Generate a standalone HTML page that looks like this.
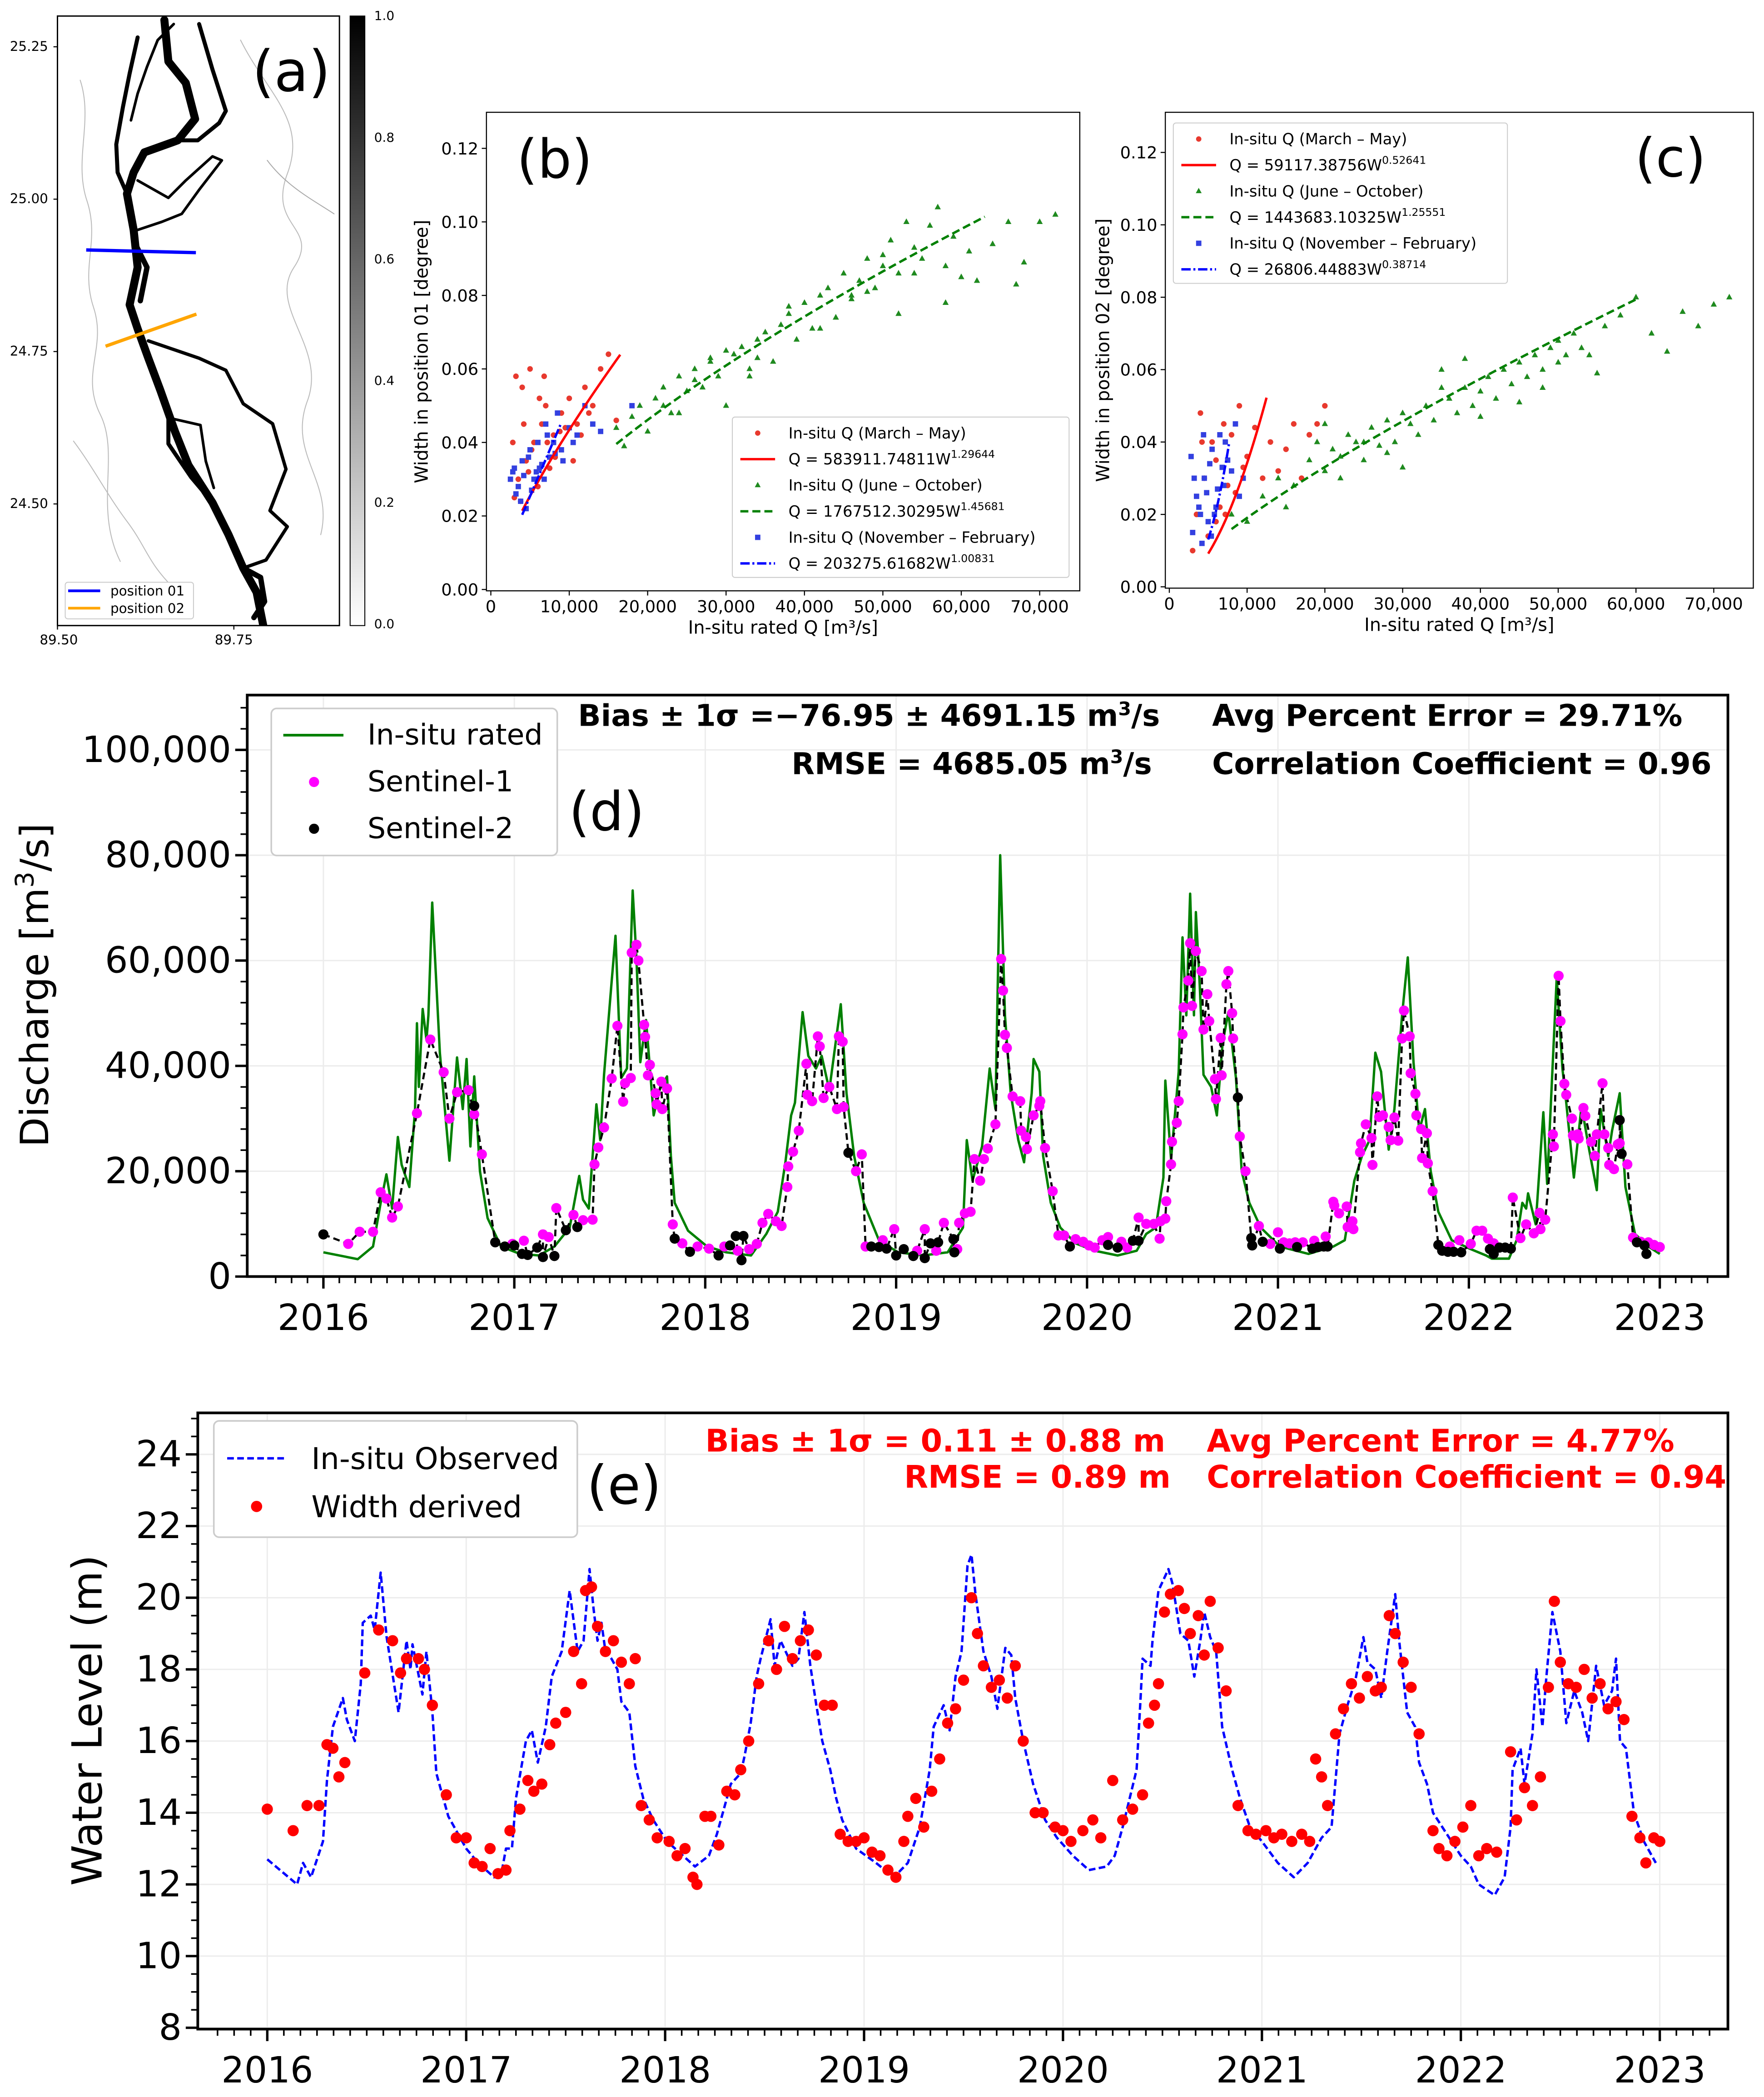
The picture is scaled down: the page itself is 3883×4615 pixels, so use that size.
<!DOCTYPE html>
<html><head><meta charset="utf-8"><title>River width discharge figure</title>
<style>
html,body{margin:0;padding:0;background:#fff;}
svg{display:block;font-family:"DejaVu Sans","Liberation Sans",sans-serif;}
</style></head>
<body>
<svg id="fig" xmlns="http://www.w3.org/2000/svg" width="3883" height="4615" viewBox="0 0 1320 1568.8" preserveAspectRatio="none">
<defs>
<linearGradient id="cbg" x1="0" y1="1" x2="0" y2="0"><stop offset="0" stop-color="#fff"/><stop offset="1" stop-color="#000"/></linearGradient>
<clipPath id="clipA"><rect x="43" y="12" width="211" height="456"/></clipPath>
</defs>
<rect x="0" y="0" width="1320" height="1568.8" fill="#fff"/>

<g id="panelA">
<g clip-path="url(#clipA)" fill="none" stroke="#000" stroke-linejoin="round" stroke-linecap="round">
<path d="M60,60 C70,90 55,120 65,150 S60,200 70,230 S60,280 75,310 S70,380 90,420" stroke="#bbb" stroke-width="0.7"/>
<path d="M180,30 C200,70 230,90 215,130 S240,170 220,200 S245,260 230,300 S250,360 240,400" stroke="#bbb" stroke-width="0.7"/>
<path d="M200,120 C215,140 235,150 250,160" stroke="#aaa" stroke-width="0.7"/>
<path d="M55,330 C70,350 80,370 95,390 S110,420 130,440" stroke="#bbb" stroke-width="0.7"/>
<path d="M123,15 L126,46 L139,62 L146,89 L133,105 L108,114 L100,129 L95,145 L100,172 L103,200 L97,228 L103,246 L111,268 L120,292 L131,323 L141,348 L159,376 L171,400 L182,425 L192,443 L197,468" stroke-width="6"/>
<path d="M103,28 L97,55 L92,80 L87,108 L88,129 L95,145" stroke-width="3"/>
<path d="M130,18 L118,30 L110,50 L103,70 L98,90" stroke-width="2"/>
<path d="M149,18 L159,52 L169,83 L164,92 L148,105 L133,105" stroke-width="3"/>
<path d="M103,135 L126,148 L139,135 L159,117 L166,120 L149,142 L136,160 L121,166 L103,172" stroke-width="2"/>
<path d="M111,255 L149,268 L169,277 L182,302 L204,317 L214,351 L202,382 L215,394 L199,419 L182,425" stroke-width="2.5"/>
<path d="M113,271 L126,308 L126,332 L143,357 L159,376" stroke-width="3"/>
<path d="M128,313 L150,318 L154,345 L160,365" stroke-width="2"/>
<path d="M100,180 L110,200 L105,225" stroke-width="4"/>
<path d="M182,425 L195,432 L198,450 L190,462" stroke-width="4"/>
</g>
<rect x="43" y="12" width="211" height="456" fill="none" stroke="#000" stroke-width="1"/>
<line x1="64.5" y1="187" x2="146.6" y2="189" stroke="#0000ff" stroke-width="2.5"/>
<line x1="79" y1="259" x2="147" y2="235" stroke="#ffa500" stroke-width="2.5"/>
<text x="218" y="68" font-size="42" text-anchor="middle">(a)</text>
<g font-size="10" text-anchor="end" fill="#000">
<text x="36" y="38">25.25</text><text x="36" y="152">25.00</text><text x="36" y="266">24.75</text><text x="36" y="380">24.50</text>
</g>
<g font-size="10" text-anchor="middle">
<text x="44" y="482">89.50</text><text x="175" y="482">89.75</text>
</g>
<g stroke="#000" stroke-width="0.8">
<line x1="40" y1="35" x2="43" y2="35"/><line x1="40" y1="149" x2="43" y2="149"/><line x1="40" y1="263" x2="43" y2="263"/><line x1="40" y1="377" x2="43" y2="377"/>
<line x1="43" y1="468" x2="43" y2="471"/><line x1="175" y1="468" x2="175" y2="471"/>
</g>
<g>
<rect x="48.8" y="435.6" width="96" height="27.4" fill="#fff" stroke="#ccc" stroke-width="0.7" rx="2"/>
<line x1="51" y1="442" x2="75" y2="442" stroke="#0000ff" stroke-width="2"/>
<line x1="51" y1="455" x2="75" y2="455" stroke="#ffa500" stroke-width="2"/>
<text x="82.6" y="445.5" font-size="10">position 01</text>
<text x="82.6" y="458.5" font-size="10">position 02</text>
</g>
<rect x="262" y="12" width="11" height="456" fill="url(#cbg)" stroke="#000" stroke-width="0.7"/>
<g font-size="9.5">
<text x="280" y="15">1.0</text><text x="280" y="106">0.8</text><text x="280" y="197">0.6</text><text x="280" y="288">0.4</text><text x="280" y="379">0.2</text><text x="280" y="470">0.0</text>
</g>
</g>

<g id="panelB"></g>
<g id="panelC"></g>
<g id="panelD"></g>
<g id="panelE"></g>
</svg>

<script>
// ---------- DATA ----------
const bRedQ=[3,3.5,4,4.5,5,5.5,6,6.5,7,7.5,8,9,10,11,12,13,14,15,3.2,4.2,5.2,6.2,7.2,8.2,9.5,11.5,3.8,4.8,6.8,12.5,16,2.8,5.8,8.8,10.5];
const bRedW=[0.025,0.03,0.055,0.035,0.06,0.04,0.028,0.045,0.05,0.033,0.042,0.048,0.052,0.045,0.055,0.05,0.06,0.064,0.058,0.045,0.038,0.052,0.04,0.036,0.044,0.042,0.024,0.032,0.058,0.048,0.046,0.04,0.03,0.043,0.035];
const bGrnQ=[16,18,19,20,21,22,23,24,25,26,27,28,29,30,31,32,33,34,35,36,37,38,39,40,41,42,43,44,45,46,47,48,49,50,51,52,53,54,55,56,57,58,59,60,61,62,64,66,67,68,70,72,22,26,30,34,38,42,46,50,54,58,17,24,28,33,44,48,52];
const bGrnW=[0.044,0.047,0.05,0.043,0.052,0.055,0.048,0.058,0.054,0.06,0.055,0.062,0.058,0.05,0.064,0.066,0.06,0.068,0.07,0.062,0.072,0.075,0.068,0.078,0.071,0.08,0.082,0.074,0.086,0.079,0.084,0.09,0.082,0.088,0.095,0.086,0.1,0.093,0.09,0.099,0.104,0.088,0.096,0.085,0.092,0.084,0.094,0.1,0.083,0.089,0.1,0.102,0.05,0.057,0.065,0.063,0.077,0.071,0.08,0.091,0.086,0.078,0.039,0.048,0.063,0.058,0.074,0.081,0.075];
const bBluQ=[2.5,3,3.5,4,4.5,5,5.5,6,6.5,7,7.5,8,8.5,9,10,11,12,3.2,4.2,5.2,6.2,7.2,8.2,9.2,3.8,4.8,5.8,6.8,2.8,10.5,13,18,14];
const bBluW=[0.03,0.033,0.028,0.035,0.022,0.038,0.03,0.04,0.034,0.045,0.036,0.04,0.048,0.038,0.044,0.042,0.05,0.026,0.031,0.027,0.033,0.042,0.037,0.035,0.024,0.036,0.032,0.03,0.032,0.04,0.045,0.05,0.043];
const cRedQ=[3,3.5,4,4.5,5,5.5,6,6.5,7,7.5,8,9,10,11,12,13,14,16,18,20,6,8.5,9.5,15,17,4.2,7.2,19];
const cRedW=[0.01,0.02,0.048,0.03,0.014,0.04,0.035,0.022,0.045,0.028,0.042,0.05,0.036,0.044,0.03,0.04,0.032,0.045,0.042,0.05,0.018,0.026,0.033,0.038,0.03,0.04,0.02,0.045];
const cGrnQ=[8,10,12,14,16,18,19,20,21,22,23,24,25,26,27,28,29,30,31,32,33,34,35,36,37,38,39,40,41,42,43,44,45,46,47,48,49,50,51,52,53,54,56,58,60,62,64,66,68,70,72,15,20,25,30,35,40,45,50,55,22,28,38,48];
const cGrnW=[0.02,0.018,0.025,0.03,0.028,0.035,0.04,0.032,0.038,0.036,0.042,0.04,0.035,0.044,0.039,0.046,0.04,0.048,0.045,0.042,0.05,0.046,0.06,0.052,0.048,0.055,0.05,0.054,0.058,0.052,0.06,0.056,0.062,0.058,0.064,0.06,0.066,0.062,0.064,0.07,0.066,0.064,0.072,0.075,0.08,0.07,0.065,0.076,0.072,0.078,0.08,0.022,0.045,0.04,0.033,0.055,0.047,0.051,0.068,0.059,0.03,0.037,0.063,0.055];
const cBluQ=[3,3.5,4,4.5,5,5.5,6,6.5,7,7.5,8,8.5,9,3.2,4.2,5.2,6.2,7.2,3.8,4.8,5.8,6.8,2.8,4.4,5.4,9.5];
const cBluW=[0.015,0.025,0.02,0.03,0.018,0.038,0.022,0.042,0.028,0.035,0.032,0.045,0.025,0.03,0.012,0.034,0.027,0.04,0.022,0.026,0.02,0.033,0.036,0.042,0.014,0.03];
const bFits=[[583911.74811,1.29644,4,16.5],[1767512.30295,1.45681,16,63],[203275.61682,1.00831,4,9]];
const cFits=[[59117.38756,0.52641,5,12.5],[1443683.10325,1.25551,8,60],[26806.44883,0.38714,5,7.7]];

const qT=[2016.0,2016.18,2016.26,2016.30,2016.33,2016.36,2016.39,2016.41,2016.45,2016.48,2016.49,2016.50,2016.52,2016.54,2016.55,2016.57,2016.61,2016.66,2016.70,2016.73,2016.75,2016.77,2016.79,2016.82,2016.86,2016.93,
2017.03,2017.13,2017.21,2017.29,2017.34,2017.36,2017.39,2017.43,2017.45,2017.47,2017.51,2017.53,2017.56,2017.59,2017.62,2017.64,2017.66,2017.69,2017.73,2017.76,2017.80,2017.82,2017.84,2017.91,
2018.01,2018.11,2018.24,2018.32,2018.38,2018.42,2018.45,2018.47,2018.51,2018.54,2018.58,2018.61,2018.65,2018.71,2018.74,2018.78,2018.83,2018.91,
2019.01,2019.14,2019.27,2019.35,2019.37,2019.40,2019.45,2019.49,2019.52,2019.545,2019.57,2019.60,2019.64,2019.67,2019.71,2019.72,2019.75,2019.77,2019.81,2019.86,2019.94,
2020.04,2020.16,2020.26,2020.31,2020.36,2020.40,2020.41,2020.44,2020.48,2020.50,2020.52,2020.54,2020.56,2020.57,2020.59,2020.61,2020.65,2020.68,2020.71,2020.74,2020.78,2020.81,2020.85,2020.91,
2021.01,2021.16,2021.29,2021.35,2021.40,2021.44,2021.48,2021.51,2021.54,2021.58,2021.61,2021.65,2021.68,2021.71,2021.74,2021.77,2021.80,2021.84,2021.91,
2022.01,2022.09,2022.12,2022.21,2022.25,2022.28,2022.30,2022.31,2022.35,2022.39,2022.41,2022.46,2022.49,2022.51,2022.55,2022.59,2022.63,2022.67,2022.69,2022.73,2022.75,2022.79,2022.82,2022.87,2022.94,2023.0];
const qV=[4.6,3.3,5.7,14,19.4,12.9,26.5,21.2,17,31.8,48.1,36,50.8,44.9,49.6,71,42.5,22,41.6,31.8,41.3,24.7,38,20,11.1,5.7,
4.3,4,5.7,9.3,19.1,14.6,12.9,32.7,25.9,38.3,56.1,64.7,37.7,39.5,73.3,60.3,40.7,48.7,30.6,35.4,38,22.9,14,8.7,
5.7,4.6,4,8.1,12.3,21.7,30.6,33,50.2,41.9,39.5,41.9,35.4,51.7,34.8,22.9,14,6.9,
4.6,4,4.6,9.3,25.9,18.2,24.7,39.5,31.8,80,49.6,34.8,25.9,21.7,34.8,41.3,38.9,22.9,14,9.3,6.3,
4.9,4,4.9,8.1,9.3,18.8,37.2,22.3,38.9,64.4,49.6,72.7,49.6,69.2,55.5,38.3,36,30.6,44.3,50.2,37.7,20,14,9.3,
5.7,4.3,5.7,6.9,18.2,22.9,25.9,42.5,38.9,24.1,31.8,49.6,60.6,40.7,27.7,31.8,20,12.3,6.9,
5.2,4,3.4,3.4,6.9,14,12.9,15.8,9.9,31.2,17.6,56.7,39.5,33,18.8,32.4,24.1,16.4,31.8,22.9,27.7,34.8,17,8.1,5.7,4.3];
const s1T=[2016.13,2016.19,2016.26,2016.30,2016.33,2016.36,2016.39,2016.49,2016.56,2016.63,2016.66,2016.70,2016.76,2016.79,2016.83,
2016.99,2017.05,2017.15,2017.18,2017.22,2017.31,2017.36,2017.41,2017.42,2017.44,2017.47,2017.51,2017.54,2017.57,2017.58,2017.61,2017.615,2017.64,2017.65,2017.68,2017.685,2017.70,2017.71,2017.74,2017.745,2017.77,2017.775,2017.80,2017.83,2017.88,2017.96,2018.02,2018.10,2018.17,2018.23,2018.27,2018.30,2018.33,2018.37,2018.40,2018.43,2018.435,2018.46,2018.49,2018.53,2018.535,2018.56,2018.59,2018.60,2018.62,2018.65,2018.69,2018.70,2018.72,2018.725,2018.79,2018.82,
2018.84,2018.93,2018.99,2019.11,2019.15,2019.21,2019.25,2019.32,2019.33,2019.36,2019.39,2019.41,2019.44,2019.46,2019.48,2019.52,2019.55,2019.56,2019.57,2019.58,2019.61,2019.65,2019.655,2019.68,2019.685,2019.72,2019.75,2019.755,2019.78,2019.82,2019.85,2019.88,2019.94,2019.98,2020.01,2020.04,2020.08,2020.11,2020.18,2020.21,2020.27,2020.31,2020.35,2020.38,2020.385,2020.41,2020.415,2020.44,2020.445,2020.47,2020.48,2020.50,2020.505,2020.53,2020.54,2020.55,2020.57,2020.60,2020.61,2020.63,2020.64,2020.67,2020.675,2020.70,2020.705,2020.73,2020.74,2020.76,2020.765,2020.80,2020.83,2020.90,2020.96,2021.00,2021.03,2021.06,2021.09,2021.13,2021.19,2021.25,2021.29,2021.295,2021.32,2021.36,2021.365,2021.39,2021.395,2021.43,2021.435,2021.46,2021.49,2021.495,2021.52,2021.53,2021.55,2021.58,2021.59,2021.61,2021.63,2021.65,2021.66,2021.69,2021.695,2021.72,2021.725,2021.75,2021.755,2021.78,2021.785,2021.81,2021.90,2021.95,2022.01,2022.04,2022.07,2022.10,2022.13,2022.23,2022.27,2022.30,2022.34,2022.37,2022.375,2022.40,2022.44,2022.445,2022.47,2022.48,2022.50,2022.51,2022.54,2022.545,2022.57,2022.575,2022.60,2022.61,2022.64,2022.66,2022.67,2022.70,2022.71,2022.73,2022.735,2022.76,2022.78,2022.79,2022.83,2022.86,2022.90,2022.94,2022.97,2023.0];
const s1Q=[6.2,8.5,8.5,16,14.8,11.2,13.3,31,45,38.8,30,35,35.4,30.8,23.2,
6.2,6.8,8,7.5,13,11.7,10.7,10.8,21.3,24.5,28.3,37.6,47.6,33.2,36.7,37.7,61.5,63,60,47.8,45.5,38.2,40.2,34.8,32.7,37,31.8,35.7,9.9,6.3,5.7,5.3,5.7,4.9,5.2,6.2,10.2,11.9,10.5,9.6,17,20.9,23.7,27.7,40.4,34.5,33.3,45.6,43.7,33.9,36,31.8,45.6,44.6,32.2,20,23.2,
5.7,6.9,9,4.9,9,4.9,10.2,5.2,10.2,12,12.3,22.3,18.2,22.3,24.3,28.9,60.3,54.3,45.9,43.4,34.2,33.3,27.7,26.5,24.2,30.6,32.4,33.3,24.4,16.2,7.8,7.8,7.1,6.6,5.9,5.5,6.9,7.5,6.6,5.5,11.2,10,10,7.2,10.5,11,14.3,21.3,25.6,29.2,33.3,46,51.1,56.2,63.3,51.4,61.8,58,46.9,53.6,48.5,37.5,33.7,45.3,38.2,55.5,58,50,45.2,26.6,20,9.6,6.2,8.4,6.5,6.3,6.5,6.5,6.8,7.6,14.2,13.5,12,13.3,9.4,10.5,9,23.6,25.3,28.9,26.3,21.2,34.2,30.3,30.6,28.4,25.9,30.2,25.8,45.2,50.5,45.6,38.6,34.7,30.6,28,22.5,27.2,21.5,16.2,5.7,6.9,6.2,8.7,8.7,7.2,6.3,15,7.3,9.9,8.2,12.1,9,10.8,27,24.7,57.1,48.5,36.6,34.5,30,26.8,27,26.2,32,30.5,25.6,22.9,27,36.7,27,24.4,21.2,20.4,25.1,25.3,21.3,7.4,6.6,6.5,6,5.6];
const s2T=[2016.0,2016.79,2016.90,2016.95,2017.0,2017.04,2017.07,2017.12,2017.15,2017.21,2017.27,2017.33,2017.84,2017.92,2018.07,2018.13,2018.16,2018.19,2018.20,2018.75,2018.87,2018.91,2018.95,2019.0,2019.04,2019.09,2019.15,2019.18,2019.22,2019.30,2019.305,2019.91,2020.11,2020.16,2020.24,2020.27,2020.79,2020.86,2020.865,2020.92,2021.01,2021.10,2021.18,2021.21,2021.24,2021.26,2021.84,2021.86,2021.89,2021.92,2021.96,2022.11,2022.13,2022.16,2022.19,2022.22,2022.79,2022.80,2022.88,2022.92,2022.93];
const s2Q=[8,32.4,6.5,5.7,5.9,4.3,4.1,5.5,3.7,3.9,8.8,9.4,7.2,4.7,4,5.9,7.7,3.1,7.7,23.5,5.7,5.6,5.3,4,5.2,3.9,3.5,6.3,6.5,7.1,4.6,5.7,6,5.5,6.8,6.8,34,7.3,5.9,6.6,5.3,5.6,5.3,5.6,5.7,5.7,6,4.9,4.7,4.7,4.6,5.2,4.3,5.5,5.5,5.3,29.7,23.3,6.5,5.9,4.3];

const wlT=[2016.0,2016.15,2016.18,2016.22,2016.28,2016.30,2016.33,2016.38,2016.40,2016.44,2016.47,2016.48,2016.52,2016.54,2016.57,2016.60,2016.66,2016.70,2016.72,2016.73,2016.78,2016.80,2016.83,2016.85,2016.91,
2017.0,2017.06,2017.14,2017.18,2017.20,2017.23,2017.25,2017.30,2017.33,2017.36,2017.40,2017.43,2017.48,2017.52,2017.56,2017.59,2017.62,2017.64,2017.66,2017.68,2017.70,2017.73,2017.76,2017.78,2017.82,2017.85,2017.89,2017.94,
2018.01,2018.09,2018.15,2018.22,2018.26,2018.30,2018.33,2018.38,2018.40,2018.43,2018.46,2018.48,2018.53,2018.55,2018.58,2018.64,2018.67,2018.70,2018.73,2018.76,2018.79,2018.83,2018.86,2018.89,2018.96,
2019.06,2019.15,2019.22,2019.28,2019.33,2019.35,2019.40,2019.43,2019.46,2019.49,2019.52,2019.54,2019.56,2019.60,2019.64,2019.67,2019.71,2019.74,2019.76,2019.80,2019.85,2019.91,2019.97,
2020.05,2020.13,2020.22,2020.26,2020.30,2020.37,2020.39,2020.40,2020.44,2020.45,2020.48,2020.53,2020.55,2020.59,2020.63,2020.66,2020.69,2020.71,2020.74,2020.77,2020.80,2020.85,2020.89,2020.94,
2021.0,2021.08,2021.16,2021.23,2021.30,2021.35,2021.39,2021.43,2021.47,2021.51,2021.53,2021.57,2021.60,2021.63,2021.67,2021.69,2021.73,2021.77,2021.79,2021.83,2021.86,2021.93,
2022.0,2022.05,2022.09,2022.17,2022.22,2022.25,2022.26,2022.30,2022.32,2022.36,2022.38,2022.41,2022.43,2022.46,2022.50,2022.53,2022.57,2022.61,2022.64,2022.68,2022.72,2022.76,2022.78,2022.80,2022.83,2022.87,2022.92,2022.98];
const wlV=[12.7,12.0,12.6,12.2,13.2,14.9,16.4,17.2,16.6,16,17.6,19.3,19.5,19.1,20.7,18.9,16.8,18.8,18,18.7,17.3,18.5,16.8,15.1,13.9,
13.0,12.6,12.2,12.4,13,13,14.4,16,16.3,15.4,16.4,17.8,18.5,20.2,18.5,18.8,20.8,19.7,18.8,19.3,18.5,18.3,18,17.1,16.8,15.3,14.4,13.8,
13.2,12.8,12.5,12.8,13.4,14.2,14.8,15.1,15.6,16.5,17.8,18.3,19.4,18.1,18.8,18.1,18.3,19.6,18.1,17,16,15.2,14.4,13.8,13.0,
12.6,12.2,12.6,13.6,15.2,16.4,17,16.3,17.8,18.5,20.9,21.2,20.1,18.5,17.8,16.9,18.6,18.4,17.2,16,14.8,13.8,13.3,
12.8,12.4,12.5,12.8,13.6,15.2,17.2,18.3,18.1,18.8,20.2,20.8,20.4,19,18.8,17.8,18.8,19.6,18.9,18.5,16.4,15.2,14.4,13.6,
13.2,12.6,12.2,12.6,13.3,13.6,16.2,17,17.7,18.9,18.2,18,17.2,18.5,20.1,18.8,16.8,16.4,15.4,14.8,14,13.4,
12.8,12.5,12,11.7,12.2,13.6,15.2,15.8,14.8,16.2,18,16.4,17.8,19.6,18.5,16.5,17.4,16.8,16,18.1,17,17.4,18.3,16,15.8,14,13.2,12.6];
const wdT=[2016.0,2016.13,2016.2,2016.26,2016.3,2016.33,2016.36,2016.39,2016.49,2016.56,2016.63,2016.67,2016.7,2016.76,2016.79,2016.83,
2016.9,2016.95,2017.0,2017.04,2017.08,2017.12,2017.16,2017.2,2017.22,2017.27,2017.31,2017.34,2017.38,2017.42,2017.45,2017.5,2017.54,2017.58,2017.6,2017.63,2017.66,2017.7,2017.74,2017.78,2017.82,2017.85,
2017.88,2017.92,2017.96,2018.02,2018.06,2018.1,2018.14,2018.16,2018.2,2018.23,2018.27,2018.31,2018.35,2018.38,2018.42,2018.47,2018.52,2018.56,2018.6,2018.64,2018.68,2018.72,2018.76,2018.8,2018.84,
2018.88,2018.92,2018.96,2019.0,2019.04,2019.08,2019.12,2019.16,2019.2,2019.22,2019.26,2019.3,2019.34,2019.38,2019.42,2019.46,2019.5,2019.54,2019.57,2019.6,2019.64,2019.68,2019.72,2019.76,2019.8,
2019.86,2019.9,2019.96,2020.0,2020.04,2020.1,2020.15,2020.19,2020.25,2020.3,2020.35,2020.4,2020.43,2020.46,2020.48,2020.51,2020.54,2020.58,2020.61,2020.64,2020.68,2020.71,2020.74,2020.78,2020.82,
2020.88,2020.93,2020.97,2021.02,2021.06,2021.1,2021.15,2021.2,2021.24,2021.27,2021.3,2021.33,2021.37,2021.41,2021.45,2021.49,2021.53,2021.57,2021.6,2021.64,2021.67,2021.71,2021.75,2021.79,
2021.86,2021.89,2021.93,2021.97,2022.01,2022.05,2022.09,2022.13,2022.18,2022.25,2022.28,2022.32,2022.36,2022.4,2022.44,2022.47,2022.5,2022.54,2022.58,2022.62,2022.66,2022.7,2022.74,2022.78,2022.82,2022.86,2022.9,2022.93,2022.97,2023.0];
const wdL=[14.1,13.5,14.2,14.2,15.9,15.8,15,15.4,17.9,19.1,18.8,17.9,18.3,18.3,18,17,
14.5,13.3,13.3,12.6,12.5,13,12.3,12.4,13.5,14.1,14.9,14.6,14.8,15.9,16.5,16.8,18.5,17.6,20.2,20.3,19.2,18.5,18.8,18.2,17.6,18.3,
14.2,13.8,13.3,13.2,12.8,13,12.2,12,13.9,13.9,13.1,14.6,14.5,15.2,16,17.6,18.8,18,19.2,18.3,18.8,19.1,18.4,17,17,
13.4,13.2,13.2,13.3,12.9,12.8,12.4,12.2,13.2,13.9,14.4,13.6,14.6,15.5,16.5,16.9,17.7,20,19,18.1,17.5,17.7,17.2,18.1,16,
14,14,13.6,13.5,13.2,13.5,13.8,13.3,14.9,13.8,14.1,14.5,16.5,17,17.6,19.6,20.1,20.2,19.7,19,19.5,18.4,19.9,18.6,17.4,
14.2,13.5,13.4,13.5,13.3,13.4,13.2,13.4,13.2,15.5,15,14.2,16.2,16.9,17.6,17.2,17.8,17.4,17.5,19.5,19,18.2,17.5,16.2,
13.5,13,12.8,13.2,13.6,14.2,12.8,13,12.9,15.7,13.8,14.7,14.2,15,17.5,19.9,18.2,17.6,17.5,18,17.2,17.6,16.9,17.1,16.6,13.9,13.3,12.6,13.3,13.2];

// ---------- HELPERS ----------
const NS='http://www.w3.org/2000/svg';
function mk(tag,attrs,parent){const e=document.createElementNS(NS,tag);for(const k in attrs)e.setAttribute(k,attrs[k]);parent.appendChild(e);return e;}
function fmt(n){return n.toString().replace(/\B(?=(\d{3})+(?!\d))/g,',');}

function scatterPanel(g,cfg){
  const X=q=>cfg.x0+q*cfg.xs, Y=w=>cfg.y0-w*cfg.ys;
  let el;
  el=mk('rect',{x:cfg.L,y:cfg.T,width:cfg.R-cfg.L,height:cfg.B-cfg.T,fill:'none',stroke:'#000','stroke-width':0.8},g);
  
  
  for(let q=0;q<=70;q+=10){
    el=mk('line',{x1:X(q),y1:cfg.B,x2:X(q),y2:cfg.B+3.5,stroke:'#000','stroke-width':0.8},g);
    
    
    el=mk('text',{x:X(q),y:cfg.B+16,'font-size':12.5,'text-anchor':'middle'},g);
    el.textContent=fmt(q*1000);
    
    
  }
  for(let i=0;i<=6;i++){
    const w=i*0.02;
    el=mk('line',{x1:cfg.L-3.5,y1:Y(w),x2:cfg.L,y2:Y(w),stroke:'#000','stroke-width':0.8},g);
    
    
    el=mk('text',{x:cfg.L-6,y:Y(w)+4.5,'font-size':12.5,'text-anchor':'end'},g);
    el.textContent=w.toFixed(2);
    
    
  }
  el=mk('text',{x:(cfg.L+cfg.R)/2,y:cfg.B+32,'font-size':13.5,'text-anchor':'middle'},g);
  el.textContent='In-situ rated Q [m³/s]';
  
  
  el=mk('text',{x:0,y:0,'font-size':13.5,'text-anchor':'middle',transform:`translate(${cfg.yl},${(cfg.T+cfg.B)/2}) rotate(-90)`},g);
  el.textContent=cfg.ylabel;
  
  
  el=mk('text',{x:cfg.px,y:cfg.py,'font-size':40,'text-anchor':'middle'},g);
  el.textContent=cfg.plabel;
  
  
  const n1=Math.min(cfg.rq.length,cfg.rw.length);
  for(let i=0;i<n1;i++){
    el=mk('circle',{cx:X(cfg.rq[i]),cy:Y(cfg.rw[i]),r:2.1,fill:'#e8392e'},g);
    
    
  }
  const n2=Math.min(cfg.gq.length,cfg.gw.length);
  for(let i=0;i<n2;i++){
    const x=X(cfg.gq[i]),y=Y(cfg.gw[i]);
    el=mk('polygon',{points:`${x},${y-2.6} ${x-2.3},${y+1.6} ${x+2.3},${y+1.6}`,fill:'#1f8a1f'},g);
    
    
  }
  const n3=Math.min(cfg.bq.length,cfg.bw.length);
  for(let i=0;i<n3;i++){
    el=mk('rect',{x:X(cfg.bq[i])-2,y:Y(cfg.bw[i])-2,width:4,height:4,fill:'#3340e0'},g);
    
    
  }
  const cols=['#ff0000','#008000','#0000ff'], dashes=['','6,3','7,2,1.5,2'], names=['fit-march-may','fit-june-october','fit-november-february'];
  cfg.fits.forEach((f,k)=>{
    let d='';
    for(let s=0;s<=40;s++){const q=f[2]+(f[3]-f[2])*s/40;const w=Math.pow(q*1000/f[0],1/f[1]);d+=(s?'L':'M')+X(q).toFixed(2)+','+Y(w).toFixed(2);}
    el=mk('path',{d:d,fill:'none',stroke:cols[k],'stroke-width':1.8,'stroke-dasharray':dashes[k]},g);
    
    
  });
  const lg=mk('g',{},g);
  
  
  el=mk('rect',{x:cfg.lx,y:cfg.ly,width:cfg.lw,height:120,fill:'#fff','fill-opacity':0.85,stroke:'#ccc','stroke-width':0.7,rx:2},lg);
  
  
  const labels=['In-situ Q (March – May)',cfg.eq[0],'In-situ Q (June – October)',cfg.eq[1],'In-situ Q (November – February)',cfg.eq[2]];
  for(let i=0;i<6;i++){
    const y=cfg.ly+12+i*19.5, mx=cfg.lx+19;
    if(i%2===0){
      if(i===0){el=mk('circle',{cx:mx,cy:y,r:2,fill:'#e8392e'},lg);}
      else if(i===2){el=mk('polygon',{points:`${mx},${y-2.5} ${mx-2.2},${y+1.5} ${mx+2.2},${y+1.5}`,fill:'#1f8a1f'},lg);}
      else {el=mk('rect',{x:mx-2,y:y-2,width:4,height:4,fill:'#3340e0'},lg);}
      
      
    } else {
      el=mk('line',{x1:cfg.lx+6,y1:y,x2:cfg.lx+32,y2:y,stroke:cols[(i-1)/2],'stroke-width':1.8,'stroke-dasharray':dashes[(i-1)/2]},lg);
      
      
    }
    el=mk('text',{x:cfg.lx+42,y:y+4,'font-size':11.5},lg);
    el.innerHTML=labels[i];
    
    
  }
}
scatterPanel(document.getElementById('panelB'),{L:364,R:808,T:84,B:442,x0:367.3,xs:5.867,y0:441,ys:2750,yl:320,ylabel:'Width in position 01 [degree]',plabel:'(b)',px:415,py:133,
  rq:bRedQ,rw:bRedW,gq:bGrnQ,gw:bGrnW,bq:bBluQ,bw:bBluW,fits:bFits,lx:548,ly:312,lw:252,
  eq:['Q = 583911.74811W<tspan dy="-5" font-size="8">1.29644</tspan>','Q = 1767512.30295W<tspan dy="-5" font-size="8">1.45681</tspan>','Q = 203275.61682W<tspan dy="-5" font-size="8">1.00831</tspan>']});
scatterPanel(document.getElementById('panelC'),{L:872,R:1312,T:84,B:440,x0:875,xs:5.82,y0:439,ys:2708,yl:830,ylabel:'Width in position 02 [degree]',plabel:'(c)',px:1250,py:132,
  rq:cRedQ,rw:cRedW,gq:cGrnQ,gw:cGrnW,bq:cBluQ,bw:cBluW,fits:cFits,lx:878,ly:92,lw:250,
  eq:['Q = 59117.38756W<tspan dy="-5" font-size="8">0.52641</tspan>','Q = 1443683.10325W<tspan dy="-5" font-size="8">1.25551</tspan>','Q = 26806.44883W<tspan dy="-5" font-size="8">0.38714</tspan>']});

function timeAxes(g,c){
  let el;
  for(let yr=2016;yr<=2023;yr++){
    el=mk('line',{x1:c.X(yr),y1:c.T,x2:c.X(yr),y2:c.B,stroke:'#ececec','stroke-width':1},g);
    
    
  }
  c.yticks.forEach(v=>{
    el=mk('line',{x1:c.L,y1:c.Y(v),x2:c.R,y2:c.Y(v),stroke:'#ececec','stroke-width':1},g);
    
    
  });
  el=mk('rect',{x:c.L,y:c.T,width:c.R-c.L,height:c.B-c.T,fill:'none',stroke:'#000','stroke-width':2},g);
  
  
  for(let m=0;m<=7*12+6;m++){
    const t=2015.75+m/12; const x=c.X(t); if(x<c.L||x>c.R)continue;
    const major=Math.abs(t-Math.round(t))<1e-6;
    el=mk('line',{x1:x,y1:c.B,x2:x,y2:c.B+(major?9:5),stroke:'#000','stroke-width':major?1.8:1.2},g);
    
    
  }
  for(let yr=2016;yr<=2023;yr++){
    el=mk('text',{x:c.X(yr),y:c.B+40,'font-size':27,'text-anchor':'middle'},g);
    el.textContent=String(yr);
    
    
  }
  for(let v=c.minorStart;v<=c.minorEnd+1e-9;v+=c.minorStep){
    const major=c.yticks.some(t=>Math.abs(t-v)<1e-6);
    el=mk('line',{x1:c.L-(major?9:5),y1:c.Y(v),x2:c.L,y2:c.Y(v),stroke:'#000','stroke-width':major?1.8:1.2},g);
    
    
  }
  c.yticks.forEach((v,i)=>{
    el=mk('text',{x:c.L-12,y:c.Y(v)+9,'font-size':27,'text-anchor':'end'},g);
    el.textContent=c.ylabels[i];
    
    
  });
}

(function(){
  const g=document.getElementById('panelD');
  const yTickVals=[0,20,40,60,80,100];
  const yTickLabels=['0','20,000','40,000','60,000','80,000','100,000'];
  const c={L:185,R:1293,T:520,B:955,X:t=>242+(t-2016)*142.86,Y:q=>955-q*3.94,yticks:yTickVals,ylabels:yTickLabels,minorStart:0,minorEnd:108,minorStep:4};
  timeAxes(g,c);
  let el;
  let d='';
  qT.forEach((t,i)=>{d+=(i?'L':'M')+c.X(t).toFixed(2)+','+c.Y(qV[i]).toFixed(2);});
  el=mk('path',{d:d,fill:'none',stroke:'#008000','stroke-width':1.8,'stroke-linejoin':'round'},g);
  
  
  const all=[];
  s1T.forEach((t,i)=>all.push([t,s1Q[i]]));
  s2T.forEach((t,i)=>all.push([t,s2Q[i]]));
  all.sort((a,b)=>a[0]-b[0]);
  d='';
  all.forEach((p,i)=>{d+=(i?'L':'M')+c.X(p[0]).toFixed(2)+','+c.Y(p[1]).toFixed(2);});
  el=mk('path',{d:d,fill:'none',stroke:'#000','stroke-width':1.6,'stroke-dasharray':'5,3'},g);
  
  
  s1T.forEach((t,i)=>{
    el=mk('circle',{cx:c.X(t),cy:c.Y(s1Q[i]),r:3.8,fill:'#ff00ff'},g);
    
    
  });
  s2T.forEach((t,i)=>{
    el=mk('circle',{cx:c.X(t),cy:c.Y(s2Q[i]),r:3.8,fill:'#000'},g);
    
    
  });
  el=mk('text',{x:0,y:0,'font-size':29,'text-anchor':'middle',transform:'translate(36,737) rotate(-90)'},g);
  el.innerHTML='Discharge [m<tspan dy="-11" font-size="19">3</tspan><tspan dy="11">/s]</tspan>';
  
  
  const lg=mk('g',{},g);
  
  
  el=mk('rect',{x:203,y:530,width:214,height:110,rx:4,fill:'#fff',stroke:'#ccc','stroke-width':1.2},lg);
  
  
  el=mk('line',{x1:212,y1:550,x2:257,y2:550,stroke:'#008000','stroke-width':2},lg);
  
  
  el=mk('circle',{cx:235,cy:585,r:3.8,fill:'#ff00ff'},lg);
  
  
  el=mk('circle',{cx:235,cy:620,r:3.8,fill:'#000'},lg);
  
  
  [['In-situ rated',557],['Sentinel-1',592],['Sentinel-2',627]].forEach(a=>{
    el=mk('text',{x:275,y:a[1],'font-size':21.5},lg);
    el.textContent=a[0];
    
    
  });
  el=mk('text',{x:454,y:621,'font-size':40,'text-anchor':'middle'},g);
  el.textContent='(d)';
  
  
  const st=[['Bias ± 1σ =−76.95 ± 4691.15 m<tspan dy="-8" font-size="14">3</tspan><tspan dy="8">/s</tspan>',868,543,'end'],['RMSE = 4685.05 m<tspan dy="-8" font-size="14">3</tspan><tspan dy="8">/s</tspan>',862,579,'end'],['Avg Percent Error = 29.71%',907,543,'start'],['Correlation Coefficient = 0.96',907,579,'start']];
  st.forEach(s=>{
    el=mk('text',{x:s[1],y:s[2],'font-size':22.4,'font-weight':'bold','text-anchor':s[3]},g);
    el.innerHTML=s[0];
    
    
  });
})();

(function(){
  const g=document.getElementById('panelE');
  const yTickVals=[8,10,12,14,16,18,20,22,24];
  const yTickLabels=['8','10','12','14','16','18','20','22','24'];
  const c={L:148,R:1293,T:1057,B:1518,X:t=>200+(t-2016)*148.86,Y:l=>1517-(l-8)*26.81,yticks:yTickVals,ylabels:yTickLabels,minorStart:8,minorEnd:25,minorStep:0.5};
  timeAxes(g,c);
  let el;
  let d='';
  wlT.forEach((t,i)=>{d+=(i?'L':'M')+c.X(t).toFixed(2)+','+c.Y(wlV[i]).toFixed(2);});
  el=mk('path',{d:d,fill:'none',stroke:'#0000ff','stroke-width':1.8,'stroke-dasharray':'5,2.5','stroke-linejoin':'round'},g);
  
  
  wdT.forEach((t,i)=>{
    el=mk('circle',{cx:c.X(t),cy:c.Y(wdL[i]),r:4.2,fill:'#ff0000'},g);
    
    
  });
  el=mk('text',{x:0,y:0,'font-size':31,'text-anchor':'middle',transform:'translate(76,1287) rotate(-90)'},g);
  el.textContent='Water Level (m)';
  
  
  const lg=mk('g',{},g);
  
  
  el=mk('rect',{x:160,y:1063,width:272,height:87,rx:4,fill:'#fff',stroke:'#ccc','stroke-width':1.2},lg);
  
  
  el=mk('line',{x1:170,y1:1091,x2:215,y2:1091,stroke:'#0000ff','stroke-width':1.8,'stroke-dasharray':'5,2.5'},lg);
  
  
  el=mk('circle',{cx:192,cy:1127,r:4.2,fill:'#ff0000'},lg);
  
  
  [['In-situ Observed',1099],['Width derived',1135]].forEach(a=>{
    el=mk('text',{x:233,y:a[1],'font-size':22.5},lg);
    el.textContent=a[0];
    
    
  });
  el=mk('text',{x:467,y:1125,'font-size':40,'text-anchor':'middle'},g);
  el.textContent='(e)';
  
  
  const st=[['Bias ± 1σ = 0.11 ± 0.88 m',872,1086,'end'],['RMSE = 0.89 m',876,1113,'end'],['Avg Percent Error = 4.77%',903,1086,'start'],['Correlation Coefficient = 0.94',903,1113,'start']];
  st.forEach(s=>{
    el=mk('text',{x:s[1],y:s[2],'font-size':23.3,'font-weight':'bold','fill':'#ff0000','text-anchor':s[3]},g);
    el.textContent=s[0];
    
    
  });
})();
</script>
</body></html>
